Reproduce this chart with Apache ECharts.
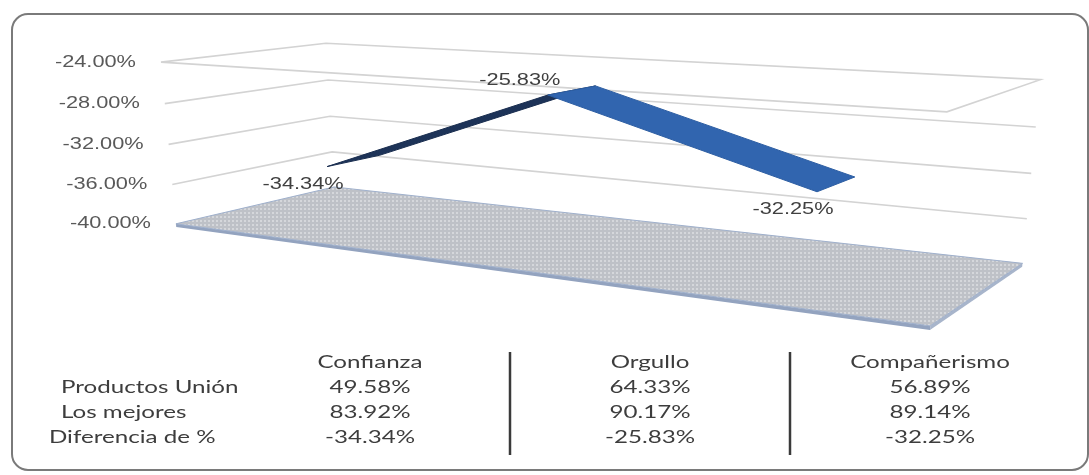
<!DOCTYPE html>
<html><head><meta charset="utf-8">
<script src="https://cdn.jsdelivr.net/npm/echarts@6/dist/echarts.min.js"></script>
<style>html,body{margin:0;padding:0;background:#fff}#c{width:1089px;height:475px}</style>
</head><body><div id="c"></div>
<script>
// ---------- data ----------
const categories = ['Confianza', 'Orgullo', 'Compañerismo'];
const productosUnion = [49.58, 64.33, 56.89];
const losMejores = [83.92, 90.17, 89.14];
const diferencia = [-34.34, -25.83, -32.25];
const rowNames = ['Productos Unión', 'Los mejores', 'Diferencia de %'];
const yTicks = [-40, -36, -32, -28, -24];
const yMin = -40, yMax = -24, yStep = 4;

// ---------- layout / style ----------
// screen positions of the 8 corners of the 3D plot box (u: category span, v: value span, w: depth)
const BOX = [
  [0,0,0,177,223],[1,0,0,930,327],[0,0,1,333,188],[1,0,1,1023,262],
  [0,1,0,160,62],[1,1,0,947,112],[0,1,1,327,43],[1,1,1,1040,80]
];
const RIB_W0 = 0.34, RIB_W1 = 0.68;
const SX = 1.36;
const AXIS_FONT = 'Liberation Sans, Arial, sans-serif';
const TABLE_FONT = 'Lato, Open Sans, sans-serif';
const fmt = v => v.toFixed(2) + '%';

function fitCamera(pts) {
  const s = 1000, n = 11, A = [], b = [];
  pts.forEach(([X, Y, Z, x, y]) => {
    x /= s; y /= s;
    A.push([X, Y, Z, 1, 0, 0, 0, 0, -x * X, -x * Y, -x * Z]); b.push(x);
    A.push([0, 0, 0, 0, X, Y, Z, 1, -y * X, -y * Y, -y * Z]); b.push(y);
  });
  const M = [...Array(n)].map(() => Array(n + 1).fill(0));
  for (let r = 0; r < A.length; r++) for (let i = 0; i < n; i++) {
    for (let j = 0; j < n; j++) M[i][j] += A[r][i] * A[r][j];
    M[i][n] += A[r][i] * b[r];
  }
  for (let i = 0; i < n; i++) {
    let p = i;
    for (let k = i + 1; k < n; k++) if (Math.abs(M[k][i]) > Math.abs(M[p][i])) p = k;
    [M[i], M[p]] = [M[p], M[i]];
    for (let k = 0; k < n; k++) {
      if (k === i) continue;
      const f = M[k][i] / M[i][i];
      for (let j = i; j <= n; j++) M[k][j] -= f * M[i][j];
    }
  }
  const q = M.map((row, i) => row[n] / row[i]);
  return (X, Y, Z) => {
    const d = q[8] * X + q[9] * Y + q[10] * Z + 1;
    return [s * (q[0] * X + q[1] * Y + q[2] * Z + q[3]) / d, s * (q[4] * X + q[5] * Y + q[6] * Z + q[7]) / d];
  };
}
const P = fitCamera(BOX);

function uv(cs, pt) {
  return [(pt[0] - cs.x) / cs.width, (cs.y + cs.height - pt[1]) / cs.height];
}

// floor pattern
const pc = document.createElement('canvas'); pc.width = 4; pc.height = 4;
const g = pc.getContext('2d');
g.fillStyle = '#bec1c7'; g.fillRect(0, 0, 4, 4);
g.fillStyle = '#d5d7db'; g.fillRect(0, 0, 2, 2);

const chart = echarts.init(document.getElementById('c'), null, { renderer: 'canvas' });

// table graphics
const table = [];
const colX = [370, 650, 930];
const rowY = [388, 412.5, 437.5];
const rowX = [61, 61, 49];
const tText = (x, y, text, align) => ({
  type: 'text', x, y, scaleX: 1.42,
  style: { text, x: 0, y: 0, align, verticalAlign: 'middle', fill: '#3d3d3d', fontSize: 17, fontFamily: TABLE_FONT }
});
categories.forEach((c, i) => table.push(tText(colX[i], 363, c, 'center')));
rowNames.forEach((r, k) => table.push(tText(rowX[k], rowY[k], r, 'left')));
[productosUnion, losMejores, diferencia].forEach((arr, k) => arr.forEach((v, i) => table.push(tText(colX[i], rowY[k], fmt(v), 'center'))));
[510, 790].forEach(x => table.push({ type: 'line', shape: { x1: x, y1: 352, x2: x, y2: 455 }, style: { stroke: '#3a3a3a', lineWidth: 2.5 } }));
table.push({ type: 'rect', shape: { x: 12, y: 14, width: 1076, height: 456, r: 16 }, style: { fill: null, stroke: '#7a7a7a', lineWidth: 2 } });

const option = {
  animation: false,
  backgroundColor: '#fff',
  grid: { left: 100, right: 100, top: 60, bottom: 160 },
  xAxis: { type: 'category', data: categories, show: false },
  yAxis: { type: 'value', min: yMin, max: yMax, interval: yStep, show: false },
  graphic: table,
  series: [
    { // walls gridlines + value axis labels
      type: 'custom', z: 1,
      data: yTicks.map(t => [0, t]),
      renderItem(params, api) {
        const cs = params.coordSys;
        const v = uv(cs, api.coord([0, api.value(1)]))[1];
        const pts = [P(0, v, 0), P(0, v, 1), P(1, v, 1)];
        const children = [];
        if (api.value(1) === yMax) pts.push(P(1, v, 0), P(0, v, 0));
        if (api.value(1) !== yMin)
          children.push({ type: 'polyline', shape: { points: pts }, style: { stroke: '#d3d3d3', lineWidth: 1.6, fill: null } });
        const fl = P(0, v, 0);
        children.push({
          type: 'text', x: fl[0] - 25, y: fl[1], scaleX: SX,
          style: { text: api.value(1).toFixed(2) + '%', x: 0, y: 0, align: 'right', verticalAlign: 'middle', fill: '#595959', fontSize: 16, fontFamily: AXIS_FONT }
        });
        return { type: 'group', children };
      }
    },
    { // floor
      type: 'custom', z: 2,
      data: [[0, yMin]],
      renderItem(params, api) {
        const cs = params.coordSys;
        const v = uv(cs, api.coord([0, api.value(1)]))[1];
        const t = -0.02;
        return {
          type: 'group', children: [
            { type: 'polygon', shape: { points: [P(0, v, 0), P(1, v, 0), P(1, t, 0), P(0, t, 0)] }, style: { fill: '#93a3bf' } },
            { type: 'polygon', shape: { points: [P(1, v, 0), P(1, v, 1), P(1, t, 1), P(1, t, 0)] }, style: { fill: '#a8b5cb' } },
            { type: 'polygon', shape: { points: [P(0, v, 0), P(1, v, 0), P(1, v, 1), P(0, v, 1)] }, style: { fill: { image: pc, repeat: 'repeat' }, stroke: '#9fb0cc', lineWidth: 1 } }
          ]
        };
      }
    },
    { // ribbon
      type: 'custom', z: 3,
      data: diferencia.slice(0, -1).map((d, i) => [i, d]),
      renderItem(params, api) {
        const cs = params.coordSys;
        const i = api.value(0);
        const a = uv(cs, api.coord([i, api.value(1)]));
        const b = uv(cs, api.coord([i + 1, diferencia[i + 1]]));
        const pts = [P(a[0], a[1], RIB_W0), P(b[0], b[1], RIB_W0), P(b[0], b[1], RIB_W1), P(a[0], a[1], RIB_W1)];
        let area = 0;
        for (let k = 0; k < 4; k++) { const p1 = pts[k], p2 = pts[(k + 1) % 4]; area += p1[0] * p2[1] - p2[0] * p1[1]; }
        return { type: 'polygon', shape: { points: pts }, style: { fill: area < 0 ? '#3165af' : '#1d3358', stroke: area < 0 ? '#2d5ea3' : '#1a2e50', lineWidth: 1 } };
      }
    },
    { // data labels
      type: 'custom', z: 4,
      data: diferencia.map((d, i) => [i, d]),
      renderItem(params, api) {
        const cs = params.coordSys;
        const i = api.value(0), val = api.value(1);
        const a = uv(cs, api.coord([i, val]));
        const p = P(a[0], a[1], RIB_W0);
        const prev = i > 0 ? diferencia[i - 1] : -Infinity, next = i < diferencia.length - 1 ? diferencia[i + 1] : -Infinity;
        const isPeak = val > prev && val > next;
        const off = isPeak ? [-28, -14] : [-24, 18];
        return {
          type: 'text', x: p[0] + off[0], y: p[1] + off[1], scaleX: SX,
          style: { text: fmt(val), x: 0, y: 0, align: 'center', verticalAlign: 'middle', fill: '#404040', fontSize: 16, fontFamily: AXIS_FONT }
        };
      }
    }
  ]
};
chart.setOption(option);
</script>
</body></html>
